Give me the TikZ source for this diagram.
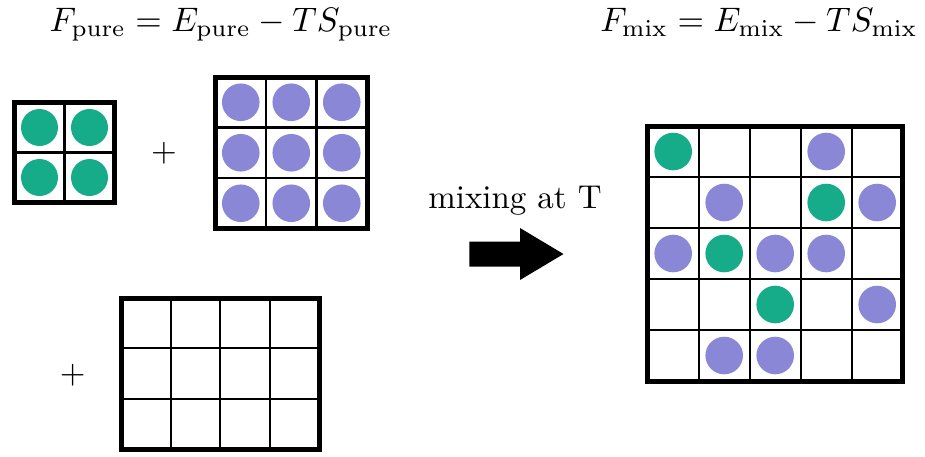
\documentclass[tikz,border=0pt]{standalone}
\usepackage{graphicx}
\definecolor{tealc}{HTML}{16AB89}
\definecolor{purp}{HTML}{8A88D6}
\tikzset{
  thinline/.style={line width=2.2pt},
  frame/.style={line width=5pt},
  gdot/.style={fill=tealc},
  pdot/.style={fill=purp},
  txt/.style={inner sep=0pt, outer sep=0pt}
}
\begin{document}
\begin{tikzpicture}[x=1pt,y=-1pt]
\useasboundingbox (0,0) rectangle (925,456);
% headers
\node[txt,anchor=base] (hl) at (221,31.7) {\scalebox{3.4}{$F_{\rm pure}=E_{\rm pure}-TS_{\rm pure}$}};
\node[txt,anchor=base] (hr) at (759,31.7) {\scalebox{3.4}{$F_{\rm mix}=E_{\rm mix}-TS_{\rm mix}$}};
% small 2x2 grid
\begin{scope}[shift={(14.5,102.5)}]
  \foreach \i in {0,1} \foreach \j in {0,1}
    \fill[gdot] ({25+50*\i},{25+50*\j}) circle (18.5);
  \draw[thinline] (50,0) -- (50,100) (0,50) -- (100,50);
  \draw[frame] (0,0) rectangle (100,100);
\end{scope}
% plus signs
\node[txt] (p1) at (164,153.3) {\scalebox{3.3}{$+$}};
\node[txt] (p2) at (72.7,375.7) {\scalebox{3.3}{$+$}};
% big 3x3 grid
\begin{scope}[shift={(215.5,77)}]
  \foreach \i in {0,1,2} \foreach \j in {0,1,2}
    \fill[pdot] ({25.25+50.5*\i},{25.25+50.5*\j}) circle (18.8);
  \draw[thinline] (50.5,0) -- (50.5,151.5) (101,0) -- (101,151.5)
                  (0,50.5) -- (151.5,50.5) (0,101) -- (151.5,101);
  \draw[frame] (0,0) rectangle (151.5,151.5);
\end{scope}
% empty 4x3 grid
\begin{scope}[shift={(121,298)}]
  \foreach \i in {1,2,3}
    \draw[thinline] ({49.6*\i},0) -- ({49.6*\i},151);
  \foreach \j in {1,2}
    \draw[thinline] (0,{50.33*\j}) -- (198.4,{50.33*\j});
  \draw[frame] (0,0) rectangle (198.4,151);
\end{scope}
% mixing text and arrow
\node[txt,anchor=base] (mix) at (515,208.3) {\scalebox{3.3}{mixing at T}};
\fill (469.3,241.5) -- (520,241.5) -- (520,228) -- (563.5,254) -- (520,280) -- (520,266.5) -- (469.3,266.5) -- cycle;
% 5x5 mixed grid
\begin{scope}[shift={(647.7,126)}]
  \foreach \c/\r in {1/1,4/2,2/3,3/4}
    \fill[gdot] ({51*\c-25.5},{51*\r-25.5}) circle (18.8);
  \foreach \c/\r in {4/1,2/2,5/2,1/3,3/3,4/3,5/4,2/5,3/5}
    \fill[pdot] ({51*\c-25.5},{51*\r-25.5}) circle (18.8);
  \foreach \k in {1,2,3,4}
    \draw[thinline] ({51*\k},0) -- ({51*\k},255) (0,{51*\k}) -- (255,{51*\k});
  \draw[frame] (0,0) rectangle (255,255);
\end{scope}
\end{tikzpicture}
\end{document}
